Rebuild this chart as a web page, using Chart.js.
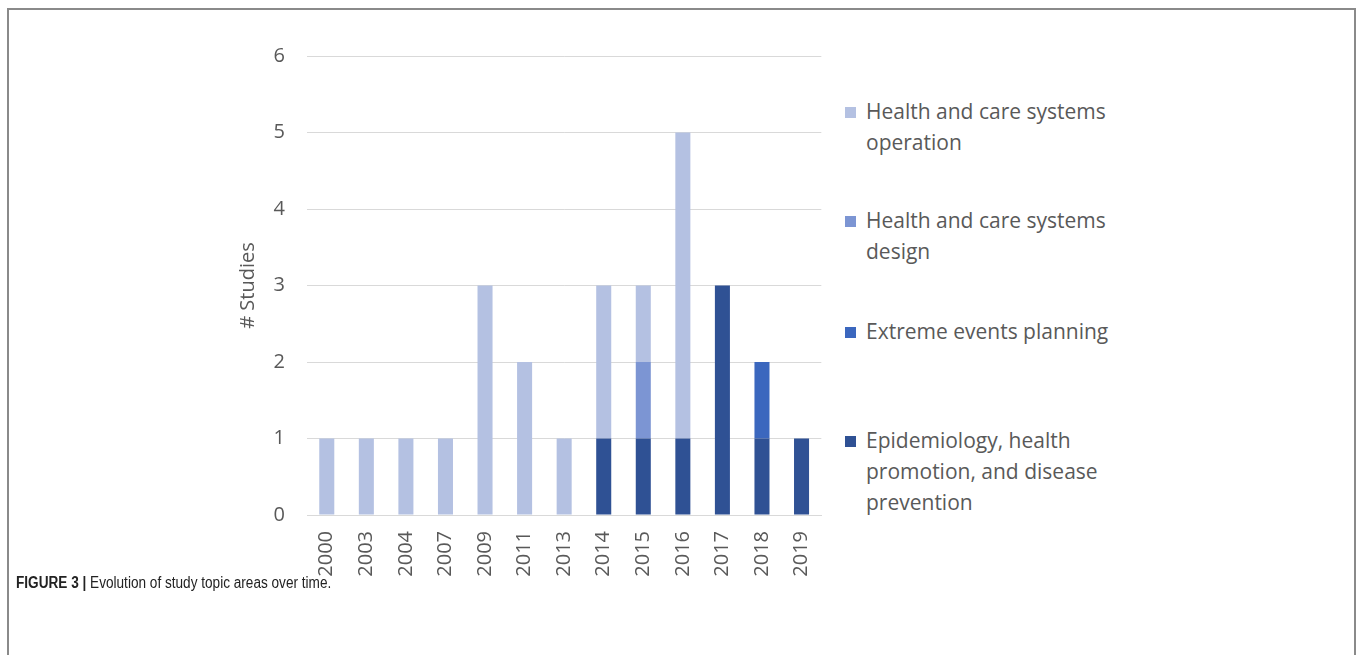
<!DOCTYPE html>
<html>
<head>
<meta charset="utf-8">
<script src="https://cdn.jsdelivr.net/npm/chart.js@4.4.0/dist/chart.umd.min.js"></script>
<style>
  html, body { margin: 0; padding: 0; background: #fff; }
  body { width: 1360px; height: 655px; position: relative; overflow: hidden; }
  #frame {
    position: absolute; left: 7px; top: 8px; width: 1345px; height: 700px;
    border: 2px solid #8a8a8a; border-bottom: none;
  }
  #chart-box { position: absolute; left: 220px; top: 22px; width: 622px; height: 578px; }
  #legend {
    position: absolute; left: 845px; top: 0; width: 300px;
    font-family: "Open Sans", sans-serif; font-size: 21px; color: #595959; line-height: 31px;
  }
  .leg-item { position: absolute; left: 0; width: 300px; }
  .leg-box { position: absolute; left: 0; top: 11px; width: 11px; height: 11px; }
  .leg-text { margin-left: 21px; white-space: nowrap; }
  #caption {
    position: absolute; left: 16px; top: 574px;
    font-family: "Liberation Sans", Arial, sans-serif;
    font-size: 16px; color: #222; white-space: nowrap;
    transform: scaleX(0.85); transform-origin: left top;
  }
  #caption b { font-weight: bold; }
</style>
</head>
<body>
<div id="frame"></div>
<div id="chart-box"><canvas id="topic-chart"></canvas></div>
<div id="legend"></div>
<div id="caption"><b>FIGURE 3 |</b> Evolution of study topic areas over time.</div>

<script>
// 데이터
const years = ['2000', '2003', '2004', '2007', '2009', '2011', '2013', '2014', '2015', '2016', '2017', '2018', '2019'];
const epidemiology = [0, 0, 0, 0, 0, 0, 0, 1, 1, 1, 3, 1, 1];
const extremeEvents = [0, 0, 0, 0, 0, 0, 0, 0, 0, 0, 0, 1, 0];
const systemsDesign = [0, 0, 0, 0, 0, 0, 0, 0, 1, 0, 0, 0, 0];
const systemsOperation = [1, 1, 1, 1, 3, 2, 1, 2, 1, 4, 0, 0, 0];
const yTicks = [0, 1, 2, 3, 4, 5, 6];

// 범례 (위에서 아래로)
const legendItems = [
  { lines: ['Health and care systems', 'operation'], color: '#b4c1e2', top: 96 },
  { lines: ['Health and care systems', 'design'], color: '#7c95d3', top: 205 },
  { lines: ['Extreme events planning'], color: '#3b67be', top: 316 },
  { lines: ['Epidemiology, health', 'promotion, and disease', 'prevention'], color: '#2f5194', top: 425 },
];

const font = { family: '"Open Sans", sans-serif', size: 20 };

new Chart(document.getElementById('topic-chart'), {
  type: 'bar',
  data: {
    labels: years,
    datasets: [
      { label: 'Epidemiology, health promotion, and disease prevention', data: epidemiology, backgroundColor: '#2f5194' },
      { label: 'Extreme events planning', data: extremeEvents, backgroundColor: '#3b67be' },
      { label: 'Health and care systems design', data: systemsDesign, backgroundColor: '#7c95d3' },
      { label: 'Health and care systems operation', data: systemsOperation, backgroundColor: '#b4c1e2' },
    ]
  },
  options: {
    responsive: true,
    maintainAspectRatio: false,
    animation: false,
    barPercentage: 0.38,
    categoryPercentage: 1,
    layout: { padding: { top: 0, right: 12, left: 0, bottom: 0 } },
    plugins: { legend: { display: false }, tooltip: { enabled: false } },
    scales: {
      x: {
        stacked: true,
        grid: { display: false, drawTicks: false },
        border: { display: true, color: '#d9d9d9', width: 1 },
        ticks: { font, color: '#595959', maxRotation: 90, minRotation: 90, padding: 16 },
        afterFit: (scale) => { scale.height = 85; }
      },
      y: {
        stacked: true,
        min: 0,
        max: 6,
        afterBuildTicks: (scale) => { scale.ticks = yTicks.map(v => ({ value: v })); },
        grid: { color: '#d9d9d9', lineWidth: 1, drawTicks: false },
        border: { display: false },
        ticks: { font, color: '#595959', padding: 22 },
        title: { display: true, text: '# Studies', font, color: '#595959', padding: { top: 16, bottom: 0 } },
        afterFit: (scale) => { scale.width = 87; }
      }
    }
  }
});

const legend = document.getElementById('legend');
legendItems.forEach(item => {
  const div = document.createElement('div');
  div.className = 'leg-item';
  div.style.top = item.top + 'px';
  div.innerHTML = `<div class="leg-box" style="background:${item.color}"></div>` +
    item.lines.map(l => `<div class="leg-text">${l}</div>`).join('');
  legend.appendChild(div);
});
</script>
</body>
</html>
